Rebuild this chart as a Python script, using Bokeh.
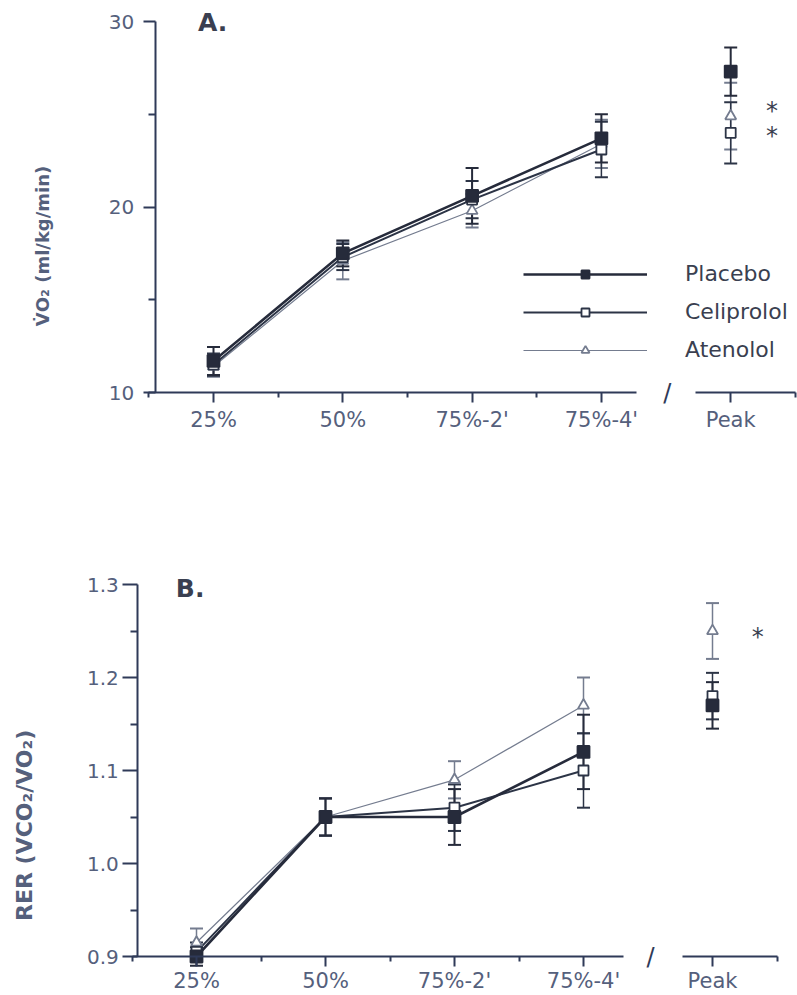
import math
from bokeh.plotting import figure
from bokeh.models import (LinearAxis, FixedTicker, Legend, LegendItem, Range1d,
                          ColumnDataSource, NumeralTickFormatter)
from bokeh.layouts import column
from bokeh.embed import file_html
from bokeh.resources import INLINE
from bokeh.core.properties import value

# ---------------- data ----------------
categories = ["25%", "50%", "75%-2'", "75%-4'", "Peak"]
positions = [1, 2, 3, 4, 5]
series_names = ["Placebo", "Celiprolol", "Atenolol"]

vo2_placebo = [11.7, 17.5, 20.6, 23.7, 27.3]
vo2_placebo_sd = [0.75, 0.7, 1.5, 1.3, 1.3]
vo2_celiprolol = [11.5, 17.3, 20.4, 23.1, 24.0]
vo2_celiprolol_sd = [0.6, 0.7, 1.0, 1.5, 1.65]
vo2_atenolol = [11.4, 17.1, 19.8, 23.4, 24.9]
vo2_atenolol_sd = [0.55, 1.0, 0.9, 1.3, 1.8]

rer_placebo = [0.900, 1.050, 1.050, 1.120, 1.170]
rer_placebo_sd = [0.010, 0.020, 0.030, 0.040, 0.025]
rer_celiprolol = [0.905, 1.050, 1.060, 1.100, 1.180]
rer_celiprolol_sd = [0.010, 0.020, 0.025, 0.040, 0.025]
rer_atenolol = [0.915, 1.050, 1.090, 1.170, 1.250]
rer_atenolol_sd = [0.015, 0.020, 0.020, 0.030, 0.030]

vo2_ticks = [10, 20, 30]
vo2_minor = [15, 25]
rer_ticks = [0.9, 1.0, 1.1, 1.2, 1.3]
rer_minor = [0.95, 1.05, 1.15, 1.25]

# ---------------- style ----------------
AXIS = "#2f3a58"
LABEL = "#55607c"
TEXT = "#3a3f50"
FONT = "DejaVu Sans"
COLORS = {"Placebo": "#262b3b", "Celiprolol": "#2c3446", "Atenolol": "#747c8f"}
LWIDTH = {"Placebo": 2.6, "Celiprolol": 2.0, "Atenolol": 1.2}
MARKER = {"Placebo": "square", "Celiprolol": "square", "Atenolol": "triangle"}
FILL = {"Placebo": "#262b3b", "Celiprolol": "white", "Atenolol": "white"}
MSIZE = {"Placebo": 12, "Celiprolol": 10, "Atenolol": 11}


def style_axis(ax, tick_out, minor_out, standoff, font_size):
    ax.axis_line_color = AXIS
    ax.axis_line_width = 2
    ax.major_tick_line_color = AXIS
    ax.major_tick_line_width = 2
    ax.minor_tick_line_color = AXIS
    ax.minor_tick_line_width = 2
    ax.major_tick_in = 0
    ax.major_tick_out = tick_out
    ax.minor_tick_in = 0
    ax.minor_tick_out = minor_out
    ax.major_label_text_font = FONT
    ax.major_label_text_font_size = font_size
    ax.major_label_text_color = LABEL
    ax.major_label_standoff = standoff


def build(width, height, xr, yr, base, top, yaxis_x, seg1_end, seg2, yticks, yminor,
          data, ytick_out, ystandoff, xstandoff, yfmt, title, title_xy, title_size,
          letter, letter_xy, stars, slash_x, legend_loc):
    p = figure(width=width, height=height, x_range=Range1d(*xr), y_range=Range1d(*yr),
               output_backend="svg", toolbar_location=None,
               x_axis_location=None, y_axis_location=None, min_border=0,
               outline_line_color=None, background_fill_color="white")
    p.grid.visible = False

    # axes
    yax = LinearAxis(ticker=FixedTicker(ticks=yticks, minor_ticks=yminor),
                     bounds=(base, top), fixed_location=yaxis_x)
    style_axis(yax, ytick_out, 7, ystandoff, "20px")
    if yfmt is not None:
        yax.formatter = yfmt
    p.add_layout(yax, "left")

    overrides = {pos: cat for pos, cat in zip(positions, categories)}
    xax1 = LinearAxis(ticker=FixedTicker(ticks=positions[:4], minor_ticks=[0.5, 1.5, 2.5, 3.5]),
                      bounds=(0.5, seg1_end), fixed_location=base,
                      major_label_overrides=overrides)
    style_axis(xax1, 10, 5, xstandoff, "21px")
    p.add_layout(xax1, "below")
    xax2 = LinearAxis(ticker=FixedTicker(ticks=positions[4:], minor_ticks=[5.5]),
                      bounds=seg2, fixed_location=base,
                      major_label_overrides=overrides)
    style_axis(xax2, 10, 5, xstandoff, "21px")
    p.add_layout(xax2, "below")

    order = ["Atenolol", "Celiprolol", "Placebo"]
    rends = {}
    for name in order:
        vals, sd = data[name]
        src = ColumnDataSource(dict(x=positions, y=vals,
                                    up=[v + s for v, s in zip(vals, sd)],
                                    lo=[v - s for v, s in zip(vals, sd)]))
        c = COLORS[name]
        p.segment(x0="x", y0="lo", x1="x", y1="up", source=src, line_color=c,
                  line_width=max(1.5, LWIDTH[name] - 0.6))
        p.scatter(x="x", y="up", source=src, marker="dash", size=13, line_color=c, line_width=2)
        p.scatter(x="x", y="lo", source=src, marker="dash", size=13, line_color=c, line_width=2)
        ln = p.line(positions[:4], vals[:4], line_color=c, line_width=LWIDTH[name])
        rends[name] = [ln]
    for name in order:
        vals, sd = data[name]
        c = COLORS[name]
        mk = p.scatter(positions, vals, marker=MARKER[name], size=MSIZE[name],
                       fill_color=FILL[name], line_color=c, line_width=1.8)
        rends[name].append(mk)

    # texts
    p.text(x=[title_xy[0]], y=[title_xy[1]], text=[title], angle=math.pi / 2,
           text_font=value(FONT), text_font_size=title_size, text_font_style="bold",
           text_color=LABEL, text_align="center", text_baseline="middle")
    p.text(x=[letter_xy[0]], y=[letter_xy[1]], text=[letter],
           text_font=value(FONT), text_font_size="25px", text_font_style="bold",
           text_color=TEXT, text_align="left", text_baseline="middle")
    p.text(x=[s[0] for s in stars], y=[s[1] for s in stars], text=["*"] * len(stars),
           text_font=value(FONT), text_font_size="24px", text_color=TEXT,
           text_align="center", text_baseline="middle")
    p.text(x=[slash_x], y=[base], text=["/"], text_font=value(FONT), text_font_size="24px",
           text_color=AXIS, text_align="center", text_baseline="middle")

    if legend_loc is not None:
        leg = Legend(items=[LegendItem(label=n, renderers=rends[n]) for n in series_names],
                     location=legend_loc, orientation="vertical",
                     glyph_width=124, glyph_height=20, label_height=20, spacing=13,
                     label_standoff=38, padding=0, margin=0,
                     border_line_color=None, background_fill_alpha=0,
                     label_text_font=FONT, label_text_font_size="22px",
                     label_text_color=TEXT)
        p.add_layout(leg)
    return p


# ---- panel A geometry (page px): x=1 at 213, 129.3 px/unit; y=10 at 392, 18.55 px/unit
HA = 440
pA = build(
    width=797, height=HA,
    xr=(1 + (0 - 213) / 129.3, 1 + (797 - 213) / 129.3),
    yr=(10 + (392 - HA) / 18.55, 10 + (392 - 0) / 18.55),
    base=10, top=30, yaxis_x=0.55, seg1_end=4.27, seg2=(4.73, 5.5),
    yticks=vo2_ticks, yminor=vo2_minor,
    data={"Placebo": (vo2_placebo, vo2_placebo_sd),
          "Celiprolol": (vo2_celiprolol, vo2_celiprolol_sd),
          "Atenolol": (vo2_atenolol, vo2_atenolol_sd)},
    ytick_out=12, ystandoff=9, xstandoff=5, yfmt=None,
    title="V\u0307O\u2082 (ml/kg/min)", title_xy=(-0.32, 17.9), title_size="18px",
    letter="A.", letter_xy=(0.88, 29.95),
    stars=[(5.32, 25.2), (5.32, 23.85)], slash_x=4.51,
    legend_loc=(523, 78),
)

# ---- panel B geometry (page px): x=1 at 196, 129 px/unit; y=0.9 at 956, 930 px/unit
HB = 995 - HA
pB = build(
    width=797, height=HB,
    xr=(1 + (0 - 196) / 129, 1 + (797 - 196) / 129),
    yr=(0.9 - (995 - 956) / 930, 0.9 + (956 - HA) / 930),
    base=0.9, top=1.3, yaxis_x=0.545, seg1_end=4.31, seg2=(4.77, 5.5),
    yticks=rer_ticks, yminor=rer_minor,
    data={"Placebo": (rer_placebo, rer_placebo_sd),
          "Celiprolol": (rer_celiprolol, rer_celiprolol_sd),
          "Atenolol": (rer_atenolol, rer_atenolol_sd)},
    ytick_out=15, ystandoff=4, xstandoff=2, yfmt=NumeralTickFormatter(format="0.0"),
    title="RER (VCO\u2082/VO\u2082)", title_xy=(-0.333, 1.041), title_size="22px",
    letter="B.", letter_xy=(0.84, 1.296),
    stars=[(5.35, 1.244)], slash_x=4.52,
    legend_loc=None,
)

layout = column(pA, pB)
open("out.html", "w").write(file_html(layout, INLINE))
